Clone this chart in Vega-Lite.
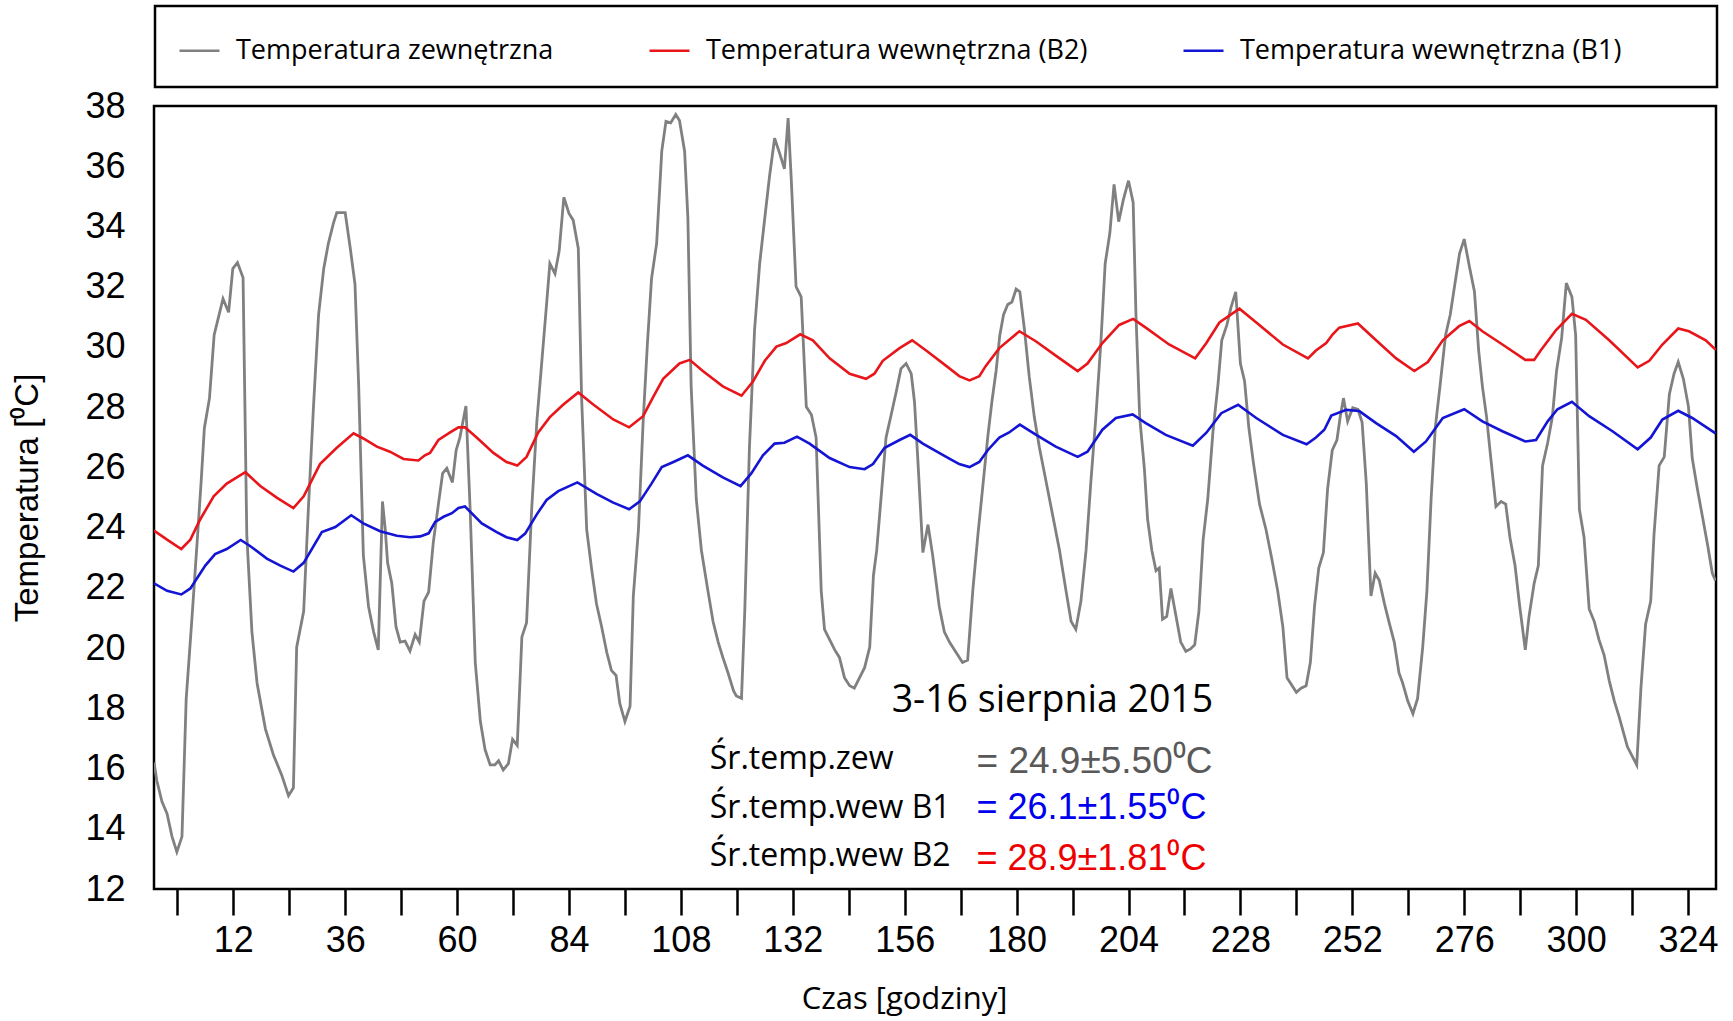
{
  "$schema": "https://vega.github.io/schema/vega-lite/v6.json",
  "width": 1562,
  "height": 783,
  "autosize": {"type": "none"},
  "padding": {"left": 154, "top": 106, "right": 17, "bottom": 132},
  "background": "white",
  "config": {
    "view": {"stroke": "black", "strokeWidth": 2.5},
    "axis": {"grid": false, "domain": false, "labelColor": "black", "titleColor": "black", "tickColor": "black", "tickWidth": 2.5, "labelOverlap": false, "labelFont": "Liberation Sans", "labelFontSize": 36, "titleFontWeight": "normal"}
  },
  "datasets": {
    "zew": [
      {"h":-5,"t":16.2},{"h":-4.4,"t":15.6},{"h":-3.3,"t":14.9},{"h":-2.2,"t":14.5},{"h":-1.15,"t":13.75},{"h":-0.1,"t":13.23},{"h":1.0,"t":13.74},{"h":1.9,"t":18.3},{"h":3.1,"t":20.9},{"h":4.2,"t":23.4},{"h":5.1,"t":25.5},{"h":5.8,"t":27.3},{"h":6.9,"t":28.3},{"h":7.9,"t":30.4},{"h":8.85,"t":31.0},{"h":9.8,"t":31.6},{"h":11.0,"t":31.15},{"h":11.9,"t":32.6},{"h":12.9,"t":32.8},{"h":14.1,"t":32.3},{"h":14.9,"t":23.76},{"h":16.0,"t":20.54},{"h":17.1,"t":18.84},{"h":18.9,"t":17.31},{"h":20.6,"t":16.46},{"h":22.4,"t":15.78},{"h":23.85,"t":15.1},{"h":24.9,"t":15.36},{"h":25.6,"t":20.03},{"h":27.1,"t":21.22},{"h":28.1,"t":24.6},{"h":29.2,"t":28.0},{"h":30.3,"t":31.07},{"h":31.4,"t":32.6},{"h":32.4,"t":33.44},{"h":33.5,"t":34.12},{"h":34.2,"t":34.46},{"h":36.0,"t":34.46},{"h":37.1,"t":33.27},{"h":38.1,"t":32.09},{"h":38.9,"t":28.7},{"h":39.6,"t":24.78},{"h":39.9,"t":23.08},{"h":41.0,"t":21.39},{"h":42.1,"t":20.54},{"h":43.1,"t":19.94},{"h":44.0,"t":24.87},{"h":44.6,"t":23.93},{"h":45.1,"t":22.83},{"h":46.0,"t":22.15},{"h":46.9,"t":20.71},{"h":47.8,"t":20.2},{"h":48.85,"t":20.23},{"h":49.9,"t":19.9},{"h":51.0,"t":20.45},{"h":51.9,"t":20.2},{"h":52.9,"t":21.56},{"h":53.9,"t":21.86},{"h":54.9,"t":23.51},{"h":56.0,"t":24.78},{"h":56.9,"t":25.8},{"h":57.8,"t":25.97},{"h":59.0,"t":25.5},{"h":59.8,"t":26.57},{"h":60.6,"t":26.99},{"h":61.9,"t":28.04},{"h":62.8,"t":24.61},{"h":63.9,"t":19.52},{"h":65.0,"t":17.56},{"h":66.0,"t":16.63},{"h":67.1,"t":16.12},{"h":68.1,"t":16.12},{"h":68.9,"t":16.26},{"h":69.9,"t":15.95},{"h":71.0,"t":16.16},{"h":71.9,"t":16.97},{"h":72.9,"t":16.77},{"h":73.9,"t":20.37},{"h":74.9,"t":20.84},{"h":76.0,"t":24.61},{"h":77.1,"t":27.5},{"h":78.1,"t":29.37},{"h":79.1,"t":31.24},{"h":79.9,"t":32.77},{"h":81.0,"t":32.43},{"h":81.9,"t":33.19},{"h":82.9,"t":34.97},{"h":84.0,"t":34.43},{"h":84.9,"t":34.21},{"h":86.0,"t":33.27},{"h":86.7,"t":28.35},{"h":87.8,"t":23.93},{"h":88.9,"t":22.57},{"h":89.9,"t":21.47},{"h":91.0,"t":20.71},{"h":92.1,"t":19.86},{"h":93.1,"t":19.26},{"h":94.1,"t":19.09},{"h":94.9,"t":18.16},{"h":96.0,"t":17.56},{"h":97.1,"t":18.07},{"h":97.8,"t":21.73},{"h":98.9,"t":23.93},{"h":99.9,"t":27.5},{"h":100.8,"t":30.05},{"h":101.7,"t":32.26},{"h":102.8,"t":33.44},{"h":103.9,"t":36.5},{"h":104.8,"t":37.49},{"h":105.8,"t":37.44},{"h":106.9,"t":37.72},{"h":107.7,"t":37.52},{"h":108.8,"t":36.5},{"h":109.5,"t":34.29},{"h":110.2,"t":28.69},{"h":111.3,"t":24.95},{"h":112.4,"t":23.25},{"h":113.8,"t":21.9},{"h":114.9,"t":20.88},{"h":116.0,"t":20.2},{"h":117.0,"t":19.69},{"h":118.1,"t":19.18},{"h":119.3,"t":18.58},{"h":119.9,"t":18.41},{"h":121.0,"t":18.33},{"h":121.7,"t":21.22},{"h":122.7,"t":26.65},{"h":123.8,"t":30.56},{"h":124.9,"t":32.77},{"h":126.0,"t":34.29},{"h":127.0,"t":35.65},{"h":128.1,"t":36.93},{"h":129.2,"t":36.42},{"h":130.2,"t":35.91},{"h":131.0,"t":37.6},{"h":131.7,"t":35.48},{"h":132.7,"t":32.0},{"h":133.8,"t":31.66},{"h":134.9,"t":28.01},{"h":136.0,"t":27.75},{"h":137.0,"t":26.99},{"h":138.1,"t":21.9},{"h":138.8,"t":20.62},{"h":139.9,"t":20.28},{"h":141.0,"t":19.94},{"h":142.0,"t":19.69},{"h":143.1,"t":19.01},{"h":144.2,"t":18.75},{"h":145.2,"t":18.67},{"h":146.3,"t":19.01},{"h":147.4,"t":19.35},{"h":148.5,"t":20.03},{"h":149.3,"t":22.41},{"h":150.0,"t":23.25},{"h":151.0,"t":25.12},{"h":152.0,"t":26.99},{"h":153.1,"t":27.75},{"h":154.2,"t":28.52},{"h":155.2,"t":29.28},{"h":156.3,"t":29.45},{"h":157.4,"t":29.11},{"h":158.1,"t":28.18},{"h":158.8,"t":26.31},{"h":159.9,"t":23.17},{"h":161.0,"t":24.1},{"h":162.0,"t":23.08},{"h":163.4,"t":21.39},{"h":164.5,"t":20.54},{"h":165.6,"t":20.2},{"h":167.0,"t":19.86},{"h":168.4,"t":19.52},{"h":169.5,"t":19.6},{"h":170.6,"t":21.9},{"h":171.7,"t":23.76},{"h":172.7,"t":25.29},{"h":173.8,"t":26.99},{"h":174.7,"t":28.18},{"h":175.6,"t":29.2},{"h":176.4,"t":30.39},{"h":177.2,"t":31.07},{"h":178.1,"t":31.41},{"h":179.0,"t":31.49},{"h":179.9,"t":31.92},{"h":180.7,"t":31.83},{"h":181.7,"t":30.56},{"h":182.7,"t":29.03},{"h":183.8,"t":27.67},{"h":184.9,"t":26.65},{"h":186.3,"t":25.55},{"h":187.7,"t":24.44},{"h":189.2,"t":23.25},{"h":190.6,"t":21.9},{"h":191.7,"t":20.88},{"h":192.7,"t":20.62},{"h":193.8,"t":21.56},{"h":194.9,"t":23.25},{"h":195.9,"t":25.46},{"h":197.0,"t":27.67},{"h":198.1,"t":30.22},{"h":199.0,"t":32.77},{"h":200.0,"t":33.78},{"h":200.9,"t":35.4},{"h":201.9,"t":34.16},{"h":202.9,"t":34.89},{"h":204.0,"t":35.52},{"h":205.0,"t":34.8},{"h":205.6,"t":31.07},{"h":206.4,"t":27.67},{"h":207.4,"t":25.97},{"h":208.1,"t":24.27},{"h":209.0,"t":23.25},{"h":209.9,"t":22.57},{"h":210.6,"t":22.66},{"h":211.3,"t":20.96},{"h":212.2,"t":21.05},{"h":213.1,"t":21.98},{"h":214.2,"t":21.05},{"h":215.2,"t":20.2},{"h":216.3,"t":19.89},{"h":217.3,"t":19.97},{"h":218.2,"t":20.11},{"h":219.1,"t":21.22},{"h":220.0,"t":23.59},{"h":221.0,"t":24.95},{"h":222.1,"t":27.16},{"h":223.2,"t":28.77},{"h":224.0,"t":30.22},{"h":225.1,"t":30.73},{"h":226.0,"t":31.32},{"h":227.0,"t":31.83},{"h":228.0,"t":29.45},{"h":228.9,"t":28.86},{"h":229.8,"t":27.33},{"h":230.8,"t":26.14},{"h":232.1,"t":24.78},{"h":233.5,"t":23.93},{"h":234.8,"t":22.91},{"h":236.0,"t":21.9},{"h":237.1,"t":20.71},{"h":238.0,"t":19.01},{"h":239.1,"t":18.75},{"h":240.0,"t":18.53},{"h":241.0,"t":18.67},{"h":242.1,"t":18.75},{"h":243.0,"t":19.52},{"h":243.9,"t":21.39},{"h":244.8,"t":22.66},{"h":245.8,"t":23.17},{"h":246.7,"t":25.29},{"h":247.7,"t":26.57},{"h":248.7,"t":26.91},{"h":249.4,"t":27.67},{"h":250.1,"t":28.3},{"h":251.0,"t":27.53},{"h":252.1,"t":27.98},{"h":253.2,"t":27.93},{"h":254.1,"t":27.5},{"h":255.0,"t":25.46},{"h":256.0,"t":21.73},{"h":256.9,"t":22.49},{"h":257.8,"t":22.24},{"h":258.9,"t":21.47},{"h":260.0,"t":20.79},{"h":261.0,"t":20.2},{"h":262.0,"t":19.18},{"h":262.8,"t":18.84},{"h":263.9,"t":18.24},{"h":265.0,"t":17.82},{"h":266.0,"t":18.33},{"h":267.1,"t":20.03},{"h":268.0,"t":21.9},{"h":268.9,"t":24.95},{"h":269.8,"t":27.33},{"h":270.8,"t":28.69},{"h":272.0,"t":30.39},{"h":273.0,"t":31.07},{"h":274.0,"t":32.09},{"h":275.0,"t":33.1},{"h":276.0,"t":33.58},{"h":277.1,"t":32.68},{"h":278.2,"t":31.83},{"h":279.1,"t":29.88},{"h":279.9,"t":28.69},{"h":280.8,"t":27.67},{"h":281.7,"t":26.31},{"h":282.8,"t":24.7},{"h":283.9,"t":24.87},{"h":284.9,"t":24.78},{"h":285.8,"t":23.68},{"h":286.9,"t":22.74},{"h":287.9,"t":21.39},{"h":289.1,"t":19.94},{"h":289.9,"t":21.05},{"h":291.0,"t":22.15},{"h":291.9,"t":22.74},{"h":292.8,"t":26.06},{"h":293.9,"t":26.82},{"h":294.9,"t":27.67},{"h":295.8,"t":29.2},{"h":296.9,"t":30.3},{"h":297.9,"t":32.12},{"h":299.1,"t":31.66},{"h":299.9,"t":30.39},{"h":300.7,"t":24.61},{"h":301.7,"t":23.68},{"h":302.8,"t":21.3},{"h":303.9,"t":20.88},{"h":304.9,"t":20.28},{"h":306.0,"t":19.77},{"h":307.1,"t":18.92},{"h":308.2,"t":18.24},{"h":309.2,"t":17.73},{"h":311.0,"t":16.72},{"h":313.0,"t":16.12},{"h":313.9,"t":18.67},{"h":314.9,"t":20.79},{"h":316.0,"t":21.56},{"h":316.7,"t":23.76},{"h":317.8,"t":26.06},{"h":318.9,"t":26.35},{"h":320.0,"t":28.43},{"h":321.0,"t":29.11},{"h":321.9,"t":29.5},{"h":323.0,"t":28.94},{"h":324.1,"t":28.01},{"h":324.9,"t":26.31},{"h":326.0,"t":25.29},{"h":327.1,"t":24.36},{"h":328.2,"t":23.42},{"h":329.2,"t":22.49},{"h":329.9,"t":22.24}
    ],
    "b2": [
      {"h":-5,"t":23.9},{"h":-2.2,"t":23.6},{"h":0.85,"t":23.29},{"h":2.8,"t":23.6},{"h":4.9,"t":24.27},{"h":7.8,"t":25.04},{"h":10.6,"t":25.46},{"h":14.6,"t":25.84},{"h":17.8,"t":25.38},{"h":21.4,"t":24.99},{"h":24.9,"t":24.65},{"h":27.1,"t":25.04},{"h":30.6,"t":26.11},{"h":34.2,"t":26.65},{"h":37.8,"t":27.13},{"h":39.9,"t":26.96},{"h":42.8,"t":26.69},{"h":45.6,"t":26.52},{"h":48.5,"t":26.28},{"h":51.7,"t":26.23},{"h":53.1,"t":26.4},{"h":54.2,"t":26.48},{"h":56.0,"t":26.91},{"h":58.5,"t":27.16},{"h":60.3,"t":27.33},{"h":61.7,"t":27.33},{"h":64.2,"t":26.99},{"h":67.8,"t":26.48},{"h":70.6,"t":26.18},{"h":72.9,"t":26.06},{"h":74.9,"t":26.35},{"h":77.4,"t":27.16},{"h":79.9,"t":27.67},{"h":82.8,"t":28.09},{"h":86.0,"t":28.49},{"h":89.2,"t":28.09},{"h":93.5,"t":27.59},{"h":96.9,"t":27.33},{"h":99.9,"t":27.7},{"h":102.1,"t":28.35},{"h":104.2,"t":28.94},{"h":107.7,"t":29.45},{"h":109.9,"t":29.57},{"h":112.7,"t":29.2},{"h":117.0,"t":28.69},{"h":121.0,"t":28.38},{"h":123.5,"t":28.86},{"h":126.0,"t":29.54},{"h":128.5,"t":30.01},{"h":130.6,"t":30.13},{"h":133.6,"t":30.42},{"h":136.3,"t":30.22},{"h":139.9,"t":29.62},{"h":144.2,"t":29.11},{"h":147.7,"t":28.94},{"h":149.5,"t":29.11},{"h":151.3,"t":29.54},{"h":154.9,"t":29.96},{"h":157.6,"t":30.22},{"h":160.6,"t":29.88},{"h":164.9,"t":29.37},{"h":167.7,"t":29.03},{"h":169.9,"t":28.89},{"h":172.0,"t":29.03},{"h":173.4,"t":29.37},{"h":176.3,"t":29.96},{"h":180.6,"t":30.52},{"h":184.2,"t":30.18},{"h":188.4,"t":29.71},{"h":193.1,"t":29.2},{"h":195.2,"t":29.45},{"h":198.4,"t":30.13},{"h":202.0,"t":30.73},{"h":205.0,"t":30.93},{"h":207.7,"t":30.64},{"h":212.7,"t":30.08},{"h":218.3,"t":29.62},{"h":220.7,"t":30.13},{"h":223.5,"t":30.81},{"h":227.8,"t":31.27},{"h":231.4,"t":30.81},{"h":237.1,"t":30.08},{"h":242.5,"t":29.62},{"h":244.2,"t":29.88},{"h":246.4,"t":30.13},{"h":247.8,"t":30.42},{"h":249.2,"t":30.64},{"h":253.2,"t":30.78},{"h":257.1,"t":30.22},{"h":261.4,"t":29.62},{"h":265.3,"t":29.2},{"h":268.2,"t":29.5},{"h":271.4,"t":30.22},{"h":274.9,"t":30.69},{"h":277.1,"t":30.86},{"h":279.9,"t":30.52},{"h":284.2,"t":30.08},{"h":289.1,"t":29.57},{"h":291.0,"t":29.57},{"h":292.4,"t":29.88},{"h":295.7,"t":30.56},{"h":299.1,"t":31.1},{"h":302.1,"t":30.9},{"h":307.1,"t":30.22},{"h":313.2,"t":29.32},{"h":315.7,"t":29.54},{"h":318.5,"t":30.08},{"h":321.9,"t":30.61},{"h":324.2,"t":30.52},{"h":327.8,"t":30.22},{"h":329.9,"t":29.91}
    ],
    "b1": [
      {"h":-5,"t":22.15},{"h":-2.2,"t":21.9},{"h":0.85,"t":21.78},{"h":2.8,"t":21.98},{"h":6.0,"t":22.74},{"h":8.1,"t":23.12},{"h":10.6,"t":23.29},{"h":13.6,"t":23.59},{"h":15.6,"t":23.39},{"h":19.2,"t":22.97},{"h":22.1,"t":22.74},{"h":24.9,"t":22.54},{"h":27.1,"t":22.83},{"h":31.0,"t":23.85},{"h":33.9,"t":24.02},{"h":37.3,"t":24.41},{"h":39.9,"t":24.14},{"h":43.5,"t":23.88},{"h":47.1,"t":23.73},{"h":49.9,"t":23.68},{"h":52.1,"t":23.71},{"h":53.9,"t":23.81},{"h":55.3,"t":24.19},{"h":57.1,"t":24.36},{"h":58.9,"t":24.48},{"h":60.3,"t":24.65},{"h":61.7,"t":24.7},{"h":65.3,"t":24.14},{"h":68.5,"t":23.85},{"h":70.6,"t":23.68},{"h":72.9,"t":23.59},{"h":74.6,"t":23.8},{"h":77.1,"t":24.44},{"h":79.2,"t":24.92},{"h":81.7,"t":25.21},{"h":85.8,"t":25.5},{"h":89.9,"t":25.12},{"h":93.5,"t":24.83},{"h":96.9,"t":24.61},{"h":99.2,"t":24.87},{"h":101.7,"t":25.46},{"h":103.9,"t":26.01},{"h":106.4,"t":26.18},{"h":109.5,"t":26.4},{"h":112.7,"t":26.06},{"h":117.0,"t":25.67},{"h":120.8,"t":25.38},{"h":123.1,"t":25.8},{"h":125.6,"t":26.4},{"h":128.1,"t":26.79},{"h":130.2,"t":26.82},{"h":132.9,"t":27.02},{"h":135.6,"t":26.79},{"h":139.9,"t":26.31},{"h":144.2,"t":26.01},{"h":147.4,"t":25.94},{"h":149.2,"t":26.11},{"h":151.7,"t":26.65},{"h":154.9,"t":26.91},{"h":157.2,"t":27.08},{"h":159.9,"t":26.79},{"h":164.9,"t":26.35},{"h":167.7,"t":26.11},{"h":169.9,"t":26.01},{"h":172.0,"t":26.18},{"h":173.8,"t":26.57},{"h":176.3,"t":26.99},{"h":178.4,"t":27.16},{"h":180.7,"t":27.42},{"h":184.2,"t":27.08},{"h":188.4,"t":26.69},{"h":193.1,"t":26.35},{"h":195.2,"t":26.52},{"h":198.4,"t":27.25},{"h":201.3,"t":27.64},{"h":204.9,"t":27.76},{"h":207.7,"t":27.47},{"h":212.0,"t":27.08},{"h":217.8,"t":26.72},{"h":220.7,"t":27.15},{"h":223.9,"t":27.8},{"h":227.5,"t":28.08},{"h":231.4,"t":27.64},{"h":237.1,"t":27.08},{"h":242.2,"t":26.77},{"h":244.2,"t":26.99},{"h":246.0,"t":27.25},{"h":247.5,"t":27.72},{"h":250.7,"t":27.91},{"h":253.5,"t":27.87},{"h":257.1,"t":27.47},{"h":261.4,"t":27.04},{"h":265.2,"t":26.52},{"h":267.8,"t":26.86},{"h":271.4,"t":27.64},{"h":276.0,"t":27.93},{"h":279.9,"t":27.53},{"h":284.2,"t":27.2},{"h":289.1,"t":26.86},{"h":291.4,"t":26.91},{"h":293.9,"t":27.53},{"h":296.0,"t":27.93},{"h":299.1,"t":28.18},{"h":302.8,"t":27.7},{"h":307.8,"t":27.2},{"h":313.2,"t":26.6},{"h":316.0,"t":26.99},{"h":318.5,"t":27.59},{"h":321.9,"t":27.88},{"h":324.9,"t":27.64},{"h":329.9,"t":27.13}
    ]
  },
  "layer": [
    {
      "data": {"name": "zew"},
      "mark": {"type": "line", "strokeWidth": 2.8, "clip": true},
      "encoding": {
        "x": {
          "field": "h", "type": "quantitative",
          "scale": {"domain": [-5, 330], "nice": false, "zero": false},
          "axis": {
            "values": [0,12,24,36,48,60,72,84,96,108,120,132,144,156,168,180,192,204,216,228,240,252,264,276,288,300,312,324],
            "labelExpr": "(datum.value - 12) % 24 === 0 ? datum.label : ''",
            "tickSize": 26, "labelPadding": 8,
            "title": "Czas [godziny]", "titleFont": "Open Sans", "titleFontSize": 31, "titlePadding": 26, "titleX": 750, "titleAlign": "center"
          }
        },
        "y": {
          "field": "t", "type": "quantitative",
          "scale": {"domain": [12, 38], "nice": false, "zero": false},
          "axis": {
            "values": [12,13,14,15,16,17,18,19,20,21,22,23,24,25,26,27,28,29,30,31,32,33,34,35,36,37,38],
            "labelExpr": "datum.value % 2 === 0 ? datum.label : ''",
            "tickOpacity": {"condition": {"test": "datum.value % 2 === 1", "value": 1}, "value": 0},
            "tickSize": 27, "labelPadding": 2,
            "title": "Temperatura [⁰C]", "titleFont": "Liberation Sans", "titleFontSize": 33, "titlePadding": 40
          }
        },
        "color": {
          "datum": "Temperatura zewnętrzna", "type": "nominal",
          "scale": {"domain": ["Temperatura zewnętrzna", "Temperatura wewnętrzna (B2)", "Temperatura wewnętrzna (B1)"], "range": ["#808080", "#e8161b", "#1414d4"]},
          "legend": {
            "orient": "none", "legendX": 1, "legendY": -100, "direction": "horizontal",
            "title": " ", "titleOrient": "right", "titlePadding": 73, "titleFontSize": 10,
            "symbolType": "stroke", "symbolSize": 1600, "symbolStrokeWidth": 2.5,
            "labelFont": "Open Sans", "labelFontSize": 27, "labelColor": "black", "labelLimit": 700, "labelOffset": 15,
            "columnPadding": 90, "padding": 23,
            "strokeColor": "black", "fillColor": "white",
            "encode": {"legend": {"update": {"strokeWidth": {"value": 2.5}}}}
          }
        }
      }
    },
    {
      "data": {"name": "b2"},
      "mark": {"type": "line", "strokeWidth": 2.6, "clip": true},
      "encoding": {
        "x": {"field": "h", "type": "quantitative"},
        "y": {"field": "t", "type": "quantitative"},
        "color": {
          "datum": "Temperatura wewnętrzna (B2)", "type": "nominal",
          "scale": {"domain": ["Temperatura zewnętrzna", "Temperatura wewnętrzna (B2)", "Temperatura wewnętrzna (B1)"], "range": ["#808080", "#e8161b", "#1414d4"]}
        }
      }
    },
    {
      "data": {"name": "b1"},
      "mark": {"type": "line", "strokeWidth": 2.6, "clip": true},
      "encoding": {
        "x": {"field": "h", "type": "quantitative"},
        "y": {"field": "t", "type": "quantitative"},
        "color": {
          "datum": "Temperatura wewnętrzna (B1)", "type": "nominal",
          "scale": {"domain": ["Temperatura zewnętrzna", "Temperatura wewnętrzna (B2)", "Temperatura wewnętrzna (B1)"], "range": ["#808080", "#e8161b", "#1414d4"]}
        }
      }
    },
    {
      "data": {"values": [{}]},
      "mark": {"type": "text", "text": "3-16 sierpnia 2015", "font": "Open Sans", "fontSize": 37.5, "align": "left", "baseline": "alphabetic", "color": "black"},
      "encoding": {"x": {"datum": 153.2, "type": "quantitative"}, "y": {"datum": 17.88, "type": "quantitative"}}
    },
    {
      "data": {"values": [{}]},
      "mark": {"type": "text", "text": "Śr.temp.zew", "font": "Open Sans", "fontSize": 32, "align": "left", "baseline": "alphabetic", "color": "black"},
      "encoding": {"x": {"datum": 114.2, "type": "quantitative"}, "y": {"datum": 16.0, "type": "quantitative"}}
    },
    {
      "data": {"values": [{}]},
      "mark": {"type": "text", "text": "= 24.9±5.50⁰C", "font": "Liberation Sans", "fontSize": 37, "align": "left", "baseline": "alphabetic", "color": "#595959"},
      "encoding": {"x": {"datum": 171.4, "type": "quantitative"}, "y": {"datum": 15.85, "type": "quantitative"}}
    },
    {
      "data": {"values": [{}]},
      "mark": {"type": "text", "text": "Śr.temp.wew B1", "font": "Open Sans", "fontSize": 32, "align": "left", "baseline": "alphabetic", "color": "black"},
      "encoding": {"x": {"datum": 114.2, "type": "quantitative"}, "y": {"datum": 14.35, "type": "quantitative"}}
    },
    {
      "data": {"values": [{}]},
      "mark": {"type": "text", "text": "= 26.1±1.55⁰C", "font": "Liberation Sans", "fontSize": 36, "align": "left", "baseline": "alphabetic", "color": "#0000ee"},
      "encoding": {"x": {"datum": 171.4, "type": "quantitative"}, "y": {"datum": 14.33, "type": "quantitative"}}
    },
    {
      "data": {"values": [{}]},
      "mark": {"type": "text", "text": "Śr.temp.wew B2", "font": "Open Sans", "fontSize": 32, "align": "left", "baseline": "alphabetic", "color": "black"},
      "encoding": {"x": {"datum": 114.2, "type": "quantitative"}, "y": {"datum": 12.77, "type": "quantitative"}}
    },
    {
      "data": {"values": [{}]},
      "mark": {"type": "text", "text": "= 28.9±1.81⁰C", "font": "Liberation Sans", "fontSize": 36, "align": "left", "baseline": "alphabetic", "color": "#ee0000"},
      "encoding": {"x": {"datum": 171.4, "type": "quantitative"}, "y": {"datum": 12.63, "type": "quantitative"}}
    }
  ]
}
